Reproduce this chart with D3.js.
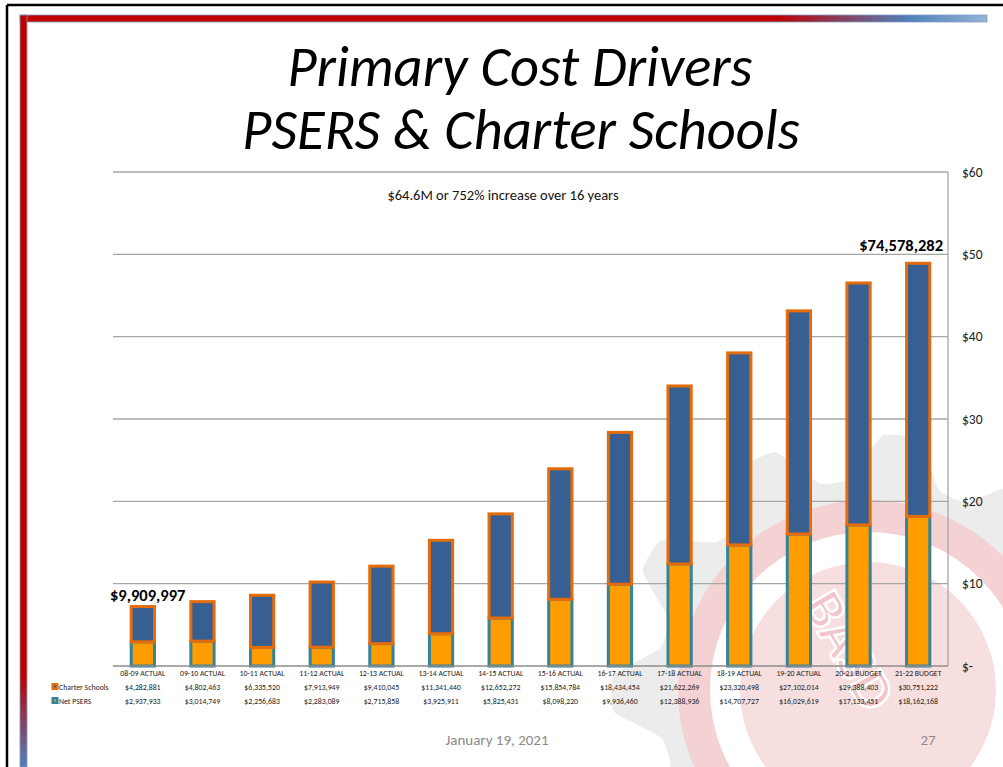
<!DOCTYPE html>
<html>
<head>
<meta charset="utf-8">
<script src="https://cdn.jsdelivr.net/npm/d3@7"></script>
<style>
  body { margin: 0; background: #fff; }
  svg { display: block; font-family: Carlito, Lato, "Open Sans", sans-serif; }
</style>
</head>
<body>
<div id="chart"></div>
<script>
// data (dollars)
const categories = ["08-09 ACTUAL", "09-10 ACTUAL", "10-11 ACTUAL", "11-12 ACTUAL", "12-13 ACTUAL",
  "13-14 ACTUAL", "14-15 ACTUAL", "15-16 ACTUAL", "16-17 ACTUAL", "17-18 ACTUAL",
  "18-19 ACTUAL", "19-20 ACTUAL", "20-21 BUDGET", "21-22 BUDGET"];
const charterSchools = [4282881, 4802463, 6335520, 7913949, 9410045, 11341440, 12652272,
  15854784, 18434454, 21622269, 23320498, 27102014, 29388403, 30751222];
const netPsers = [2937933, 3014749, 2256683, 2283089, 2715858, 3925911, 5825431,
  8098220, 9936460, 12388936, 14707727, 16029619, 17133451, 18162168];
const yTicks = [0, 10, 20, 30, 40, 50, 60];

const width = 1003, height = 767;
const plot = { left: 113, right: 948, top: 172, bottom: 666 };

const svg = d3.select("#chart").append("svg")
  .attr("width", width)
  .attr("height", height);

const defs = svg.append("defs");
const topGrad = defs.append("linearGradient").attr("id", "topband")
  .attr("x1", "0%").attr("x2", "100%");
topGrad.append("stop").attr("offset", "0%").attr("stop-color", "#c00000");
topGrad.append("stop").attr("offset", "78%").attr("stop-color", "#c00000");
topGrad.append("stop").attr("offset", "92%").attr("stop-color", "#4f81bd");
topGrad.append("stop").attr("offset", "100%").attr("stop-color", "#95b3d7");
const sideGrad = defs.append("linearGradient").attr("id", "sideband")
  .attr("x1", "0%").attr("x2", "0%").attr("y1", "0%").attr("y2", "100%");
sideGrad.append("stop").attr("offset", "0%").attr("stop-color", "#c00000");
sideGrad.append("stop").attr("offset", "88%").attr("stop-color", "#c00000");
sideGrad.append("stop").attr("offset", "100%").attr("stop-color", "#4f81bd");

// watermark logo (rough gear + ring), sits behind everything
const wm = svg.append("g").attr("transform", "translate(868,690)");
const teeth = 11, rOut = 255, rIn = 212;
const gearPts = [];
for (let i = 0; i < teeth * 4; i++) {
  const a = (i / (teeth * 4)) * 2 * Math.PI + 0.2;
  const r = (i % 4 === 0 || i % 4 === 1) ? rOut : rIn;
  gearPts.push([r * Math.cos(a), r * Math.sin(a)]);
}
wm.append("path")
  .attr("d", d3.line().curve(d3.curveCardinalClosed.tension(0.6))(gearPts))
  .attr("fill", "#ececec");
wm.append("circle").attr("r", 190).attr("fill", "#f4d2d4");
wm.append("circle").attr("r", 158).attr("fill", "#fff");
wm.append("circle").attr("r", 128).attr("fill", "#f7dfe0");
wm.append("text")
  .attr("transform", "translate(-18,-40) rotate(60)")
  .attr("text-anchor", "middle")
  .attr("dy", "0.35em")
  .attr("font-size", 56)
  .attr("font-weight", "bold")
  .attr("fill", "#f2c6c9")
  .attr("stroke", "#fff")
  .attr("stroke-width", 2.5)
  .text("BASD");

// slide frame
svg.append("line").attr("x1", 7).attr("x2", width).attr("y1", 5).attr("y2", 5)
  .attr("stroke", "#000").attr("stroke-width", 2.5);
svg.append("line").attr("x1", 7).attr("x2", 7).attr("y1", 5).attr("y2", height)
  .attr("stroke", "#000").attr("stroke-width", 2.5);
svg.append("rect").attr("x", 20).attr("y", 15).attr("width", 967).attr("height", 7)
  .attr("fill", "url(#topband)").attr("stroke", "#7f9fc4").attr("stroke-width", 0.8);
svg.append("rect").attr("x", 20).attr("y", 15).attr("width", 7).attr("height", 752)
  .attr("fill", "url(#sideband)").attr("stroke", "#7f9fc4").attr("stroke-width", 0.8);

// title
const title = svg.append("g").attr("font-style", "italic").attr("fill", "#000")
  .attr("text-anchor", "middle").attr("font-size", 56.5).attr("font-weight", 300);
title.append("text").attr("x", 520).attr("y", 86).text("Primary Cost Drivers");
title.append("text").attr("x", 521).attr("y", 149).text("PSERS & Charter Schools");

// scales
const x = d3.scaleBand()
  .domain(categories)
  .range([plot.left, plot.right])
  .paddingInner(0.61)
  .paddingOuter(0.305);
const y = d3.scaleLinear().domain([0, 60]).range([plot.bottom, plot.top]);

// gridlines
svg.append("g").selectAll("line")
  .data(yTicks.filter(d => d > 0))
  .enter().append("line")
  .attr("x1", plot.left).attr("x2", plot.right)
  .attr("y1", d => y(d)).attr("y2", d => y(d))
  .attr("stroke", "#a6a6a6").attr("stroke-width", 1.3);
svg.append("line")
  .attr("x1", plot.right).attr("x2", plot.right)
  .attr("y1", plot.top).attr("y2", plot.bottom)
  .attr("stroke", "#a6a6a6").attr("stroke-width", 1.3);

// right axis
const yAxis = d3.axisRight(y)
  .tickValues(yTicks)
  .tickSize(0)
  .tickPadding(14)
  .tickFormat(d => d === 0 ? "$-" : "$" + d);
svg.append("g")
  .attr("transform", `translate(${plot.right},0)`)
  .call(yAxis)
  .call(g => g.select(".domain").remove())
  .selectAll("text")
  .attr("font-size", 13.5)
  .attr("font-family", "Carlito, Lato, sans-serif")
  .attr("fill", "#222");

// stacked bars
const rows = categories.map((c, i) => ({ cat: c, psers: netPsers[i] / 1e6, charter: charterSchools[i] / 1e6 }));
const stack = d3.stack().keys(["psers", "charter"])(rows);
const fills = { psers: "#ff9c00", charter: "#375f91" };
const strokes = { psers: "#31849b", charter: "#e46c0a" };

svg.append("g").selectAll("g")
  .data(stack)
  .enter().append("g")
  .attr("fill", d => fills[d.key])
  .attr("stroke", d => strokes[d.key])
  .attr("stroke-width", 3)
  .selectAll("rect")
  .data(d => d)
  .enter().append("rect")
  .attr("x", d => x(d.data.cat))
  .attr("width", x.bandwidth())
  .attr("y", d => y(d[1]))
  .attr("height", d => y(d[0]) - y(d[1]));

// bottom axis line
svg.append("line")
  .attr("x1", plot.left).attr("x2", plot.right)
  .attr("y1", plot.bottom).attr("y2", plot.bottom)
  .attr("stroke", "#8c8c8c").attr("stroke-width", 1.3);

// data table under the chart
const fmt = d3.format("$,");
const table = svg.append("g").attr("font-size", 7.8).attr("fill", "#222")
  .attr("font-family", "Carlito, Lato, sans-serif");
table.selectAll(".cat")
  .data(categories)
  .enter().append("text")
  .attr("class", "cat")
  .attr("x", d => x(d) + x.bandwidth() / 2)
  .attr("y", 676)
  .attr("text-anchor", "middle")
  .text(d => d);
table.selectAll(".charter")
  .data(charterSchools)
  .enter().append("text")
  .attr("class", "charter")
  .attr("x", (d, i) => x(categories[i]) + x.bandwidth() / 2)
  .attr("y", 690)
  .attr("text-anchor", "middle")
  .text(d => fmt(d));
table.selectAll(".psers")
  .data(netPsers)
  .enter().append("text")
  .attr("class", "psers")
  .attr("x", (d, i) => x(categories[i]) + x.bandwidth() / 2)
  .attr("y", 704)
  .attr("text-anchor", "middle")
  .text(d => fmt(d));

// legend keys in the table
const legend = [
  { label: "Charter Schools", color: strokes.charter, dot: "#375f91", y: 687 },
  { label: "Net PSERS", color: strokes.psers, dot: "#ff9c00", y: 701 }
];
const lg = table.selectAll(".key").data(legend).enter().append("g").attr("class", "key");
lg.append("rect")
  .attr("x", 51.5).attr("y", d => d.y - 4)
  .attr("width", 7).attr("height", 7)
  .attr("fill", d => d.color);
lg.append("rect")
  .attr("x", 54).attr("y", d => d.y - 1.5)
  .attr("width", 2).attr("height", 2)
  .attr("fill", d => d.dot);
lg.append("text")
  .attr("x", 59).attr("y", d => d.y + 3)
  .text(d => d.label);

// annotations
svg.append("text")
  .attr("x", 110).attr("y", 601)
  .attr("font-size", 16.5).attr("font-weight", "bold")
  .text("$9,909,997");
svg.append("text")
  .attr("x", 943).attr("y", 251)
  .attr("text-anchor", "end")
  .attr("font-size", 16.5).attr("font-weight", "bold")
  .text("$74,578,282");
svg.append("text")
  .attr("x", 503).attr("y", 200)
  .attr("text-anchor", "middle")
  .attr("font-size", 14.5)
  .attr("fill", "#111")
  .text("$64.6M or 752% increase over 16 years");

// footer
svg.append("text")
  .attr("x", 497).attr("y", 745)
  .attr("text-anchor", "middle")
  .attr("font-size", 15).attr("fill", "#8a8a8a")
  .text("January 19, 2021");
svg.append("text")
  .attr("x", 928).attr("y", 745)
  .attr("text-anchor", "middle")
  .attr("font-size", 15).attr("fill", "#8a8a8a")
  .text("27");
</script>
</body>
</html>
